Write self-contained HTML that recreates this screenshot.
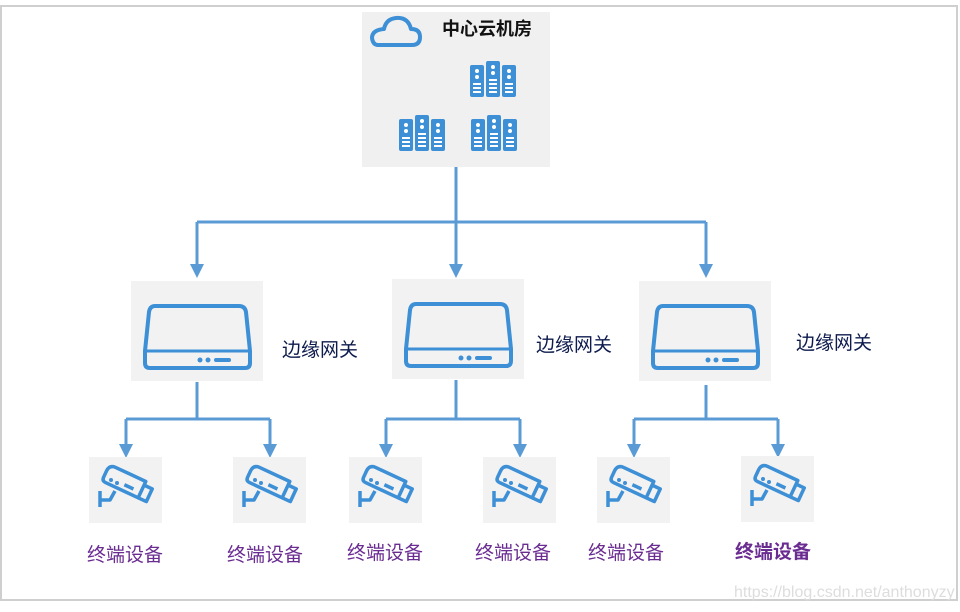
<!DOCTYPE html>
<html><head><meta charset="utf-8"><style>
body{margin:0;background:#fff;}
svg{display:block;}
text{font-family:"Liberation Sans","Noto Sans CJK SC",sans-serif;}
</style></head><body>
<svg width="960" height="612" viewBox="0 0 960 612" xmlns="http://www.w3.org/2000/svg">
<defs>
<g id="srv">
 <rect x="0" y="4" width="14" height="32" rx="2" fill="#3d8fd6"/>
 <rect x="16" y="0" width="14" height="36" rx="2" fill="#3d8fd6"/>
 <rect x="32" y="4" width="14" height="32" rx="2" fill="#3d8fd6"/>
 <g fill="#fff">
  <circle cx="7" cy="10" r="2"/><circle cx="7" cy="16" r="2"/>
  <rect x="3" y="22" width="8" height="2"/><rect x="3" y="26" width="8" height="2"/><rect x="3" y="30" width="8" height="2"/>
  <circle cx="23" cy="6" r="2"/><circle cx="23" cy="12" r="2"/>
  <rect x="19" y="18" width="8" height="2"/><rect x="19" y="22" width="8" height="2"/><rect x="19" y="26" width="8" height="2"/><rect x="19" y="30" width="8" height="2"/>
  <circle cx="39" cy="10" r="2"/><circle cx="39" cy="16" r="2"/>
  <rect x="35" y="22" width="8" height="2"/><rect x="35" y="26" width="8" height="2"/><rect x="35" y="30" width="8" height="2"/>
 </g>
</g>
<g id="gw">
 <rect x="0" y="0" width="132" height="100" fill="#f2f2f2"/>
 <path d="M24,25 L108,25 Q114,25 115,31 L119,70 L119,82 Q119,87 114,87 L19,87 Q14,87 14,82 L14,70 L18,31 Q19,25 24,25 Z" fill="none" stroke="#3d8fd6" stroke-width="4" stroke-linejoin="round"/>
 <line x1="14" y1="70" x2="119" y2="70" stroke="#3d8fd6" stroke-width="3"/>
 <circle cx="69" cy="79" r="2.5" fill="#3d8fd6"/><circle cx="77" cy="79" r="2.5" fill="#3d8fd6"/>
 <line x1="85" y1="79" x2="98" y2="79" stroke="#3d8fd6" stroke-width="4" stroke-linecap="round"/>
</g>
<g id="cam">
 <rect x="0" y="0" width="73" height="66" fill="#f2f2f2"/>
 <g transform="rotate(25 34 26)" fill="none" stroke="#3d8fd6" stroke-width="3.5" stroke-linejoin="round">
  <path d="M14,22 Q14,15 21,15 L54,15 L54,33 L18,33 Q14,33 14,29 Z"/>
  <path d="M54,19 L63,19 L63,33 L54,33"/>
  <line x1="36" y1="27" x2="46" y2="27"/>
 </g>
 <circle cx="22" cy="23" r="2" fill="#3d8fd6"/><circle cx="28" cy="26" r="2" fill="#3d8fd6"/>
 <path d="M11,34 L11,50 M11,43 L21,43 L26,34" fill="none" stroke="#3d8fd6" stroke-width="3.5" stroke-linejoin="round"/>
</g>
</defs>
<rect x="1" y="6" width="956" height="594" fill="none" stroke="#cfcfcf" stroke-width="2"/>

<rect x="362" y="12" width="188" height="155" fill="#f0f0f0"/>
<path d="M378,45 L412,45 Q420,45 420,37 Q420,29 411,29 Q408,17 396,18 Q386,19 384,29 Q372,30 372,38 Q373,45 378,45 Z" fill="none" stroke="#3d8fd6" stroke-width="4" stroke-linejoin="round"/>
<text x="442" y="35" font-size="18" font-weight="bold" fill="#111">中心云机房</text>
<use href="#srv" x="470" y="61"/>
<use href="#srv" x="399" y="115"/>
<use href="#srv" x="471" y="115"/>

<g stroke="#5b9bd5" stroke-width="3" fill="none">
 <path d="M456,167 V222 M197,222 H706 M197,222 V266 M456,222 V266 M706,222 V266"/>
 <path d="M197,382 V419 M126,419 H270 M126,419 V446 M270,419 V446"/>
 <path d="M456,380 V419 M386,419 H520 M386,419 V446 M520,419 V446"/>
 <path d="M706,385 V419 M634,419 H778 M634,419 V446 M778,419 V446"/>
</g>
<g fill="#5b9bd5">
 <path d="M190,264 h14 l-7,14 z"/><path d="M449,264 h14 l-7,14 z"/><path d="M699,264 h14 l-7,14 z"/>
 <path d="M119,444 h14 l-7,14 z"/><path d="M263,444 h14 l-7,14 z"/>
 <path d="M379,444 h14 l-7,14 z"/><path d="M513,444 h14 l-7,14 z"/>
 <path d="M627,444 h14 l-7,14 z"/><path d="M771,444 h14 l-7,14 z"/>
</g>

<use href="#gw" x="131" y="281"/>
<use href="#gw" x="392" y="279"/>
<use href="#gw" x="639" y="281"/>
<g font-size="19" fill="#0d1b4d">
 <text x="282" y="356">边缘网关</text>
 <text x="536" y="351">边缘网关</text>
 <text x="796" y="349">边缘网关</text>
</g>

<use href="#cam" x="89" y="457"/>
<use href="#cam" x="233" y="457"/>
<use href="#cam" x="349" y="457"/>
<use href="#cam" x="483" y="457"/>
<use href="#cam" x="597" y="457"/>
<use href="#cam" x="741" y="456"/>
<g font-size="19" fill="#6a2c91">
 <text x="87" y="561">终端设备</text>
 <text x="227" y="561">终端设备</text>
 <text x="347" y="559">终端设备</text>
 <text x="475" y="559">终端设备</text>
 <text x="588" y="559">终端设备</text>
 <text x="735" y="558" font-weight="bold">终端设备</text>
</g>
<text x="734" y="597" font-size="16" fill="#dddddd">https://blog.csdn.net/anthonyzy</text>
</svg>
</body></html>
